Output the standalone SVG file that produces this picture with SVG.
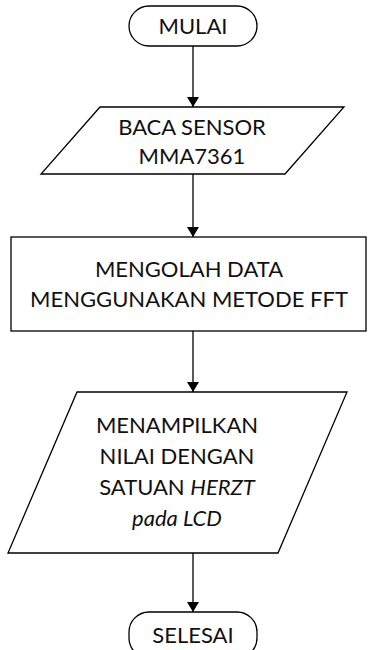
<svg xmlns="http://www.w3.org/2000/svg" width="368" height="650" viewBox="0 0 368 650">
<defs>
<marker id="ah" viewBox="0 0 10 12" refX="10" refY="6" markerWidth="10" markerHeight="12" markerUnits="userSpaceOnUse" orient="auto">
<path d="M0,0 L10,6 L0,12 Z" fill="#000"/>
</marker>
<style>
.s{fill:#fff;stroke:#000;stroke-width:1.3}
.t{font-family:Lato,"Open Sans",sans-serif;font-size:22px;fill:#111;text-anchor:middle}
.c{stroke:#000;stroke-width:1.3;fill:none}
</style>
</defs>
<rect width="368" height="650" fill="#fff"/>
<g id="connectors">
<line class="c" x1="193" y1="46" x2="193" y2="107" marker-end="url(#ah)"/>
<line class="c" x1="193" y1="174" x2="193" y2="237" marker-end="url(#ah)"/>
<line class="c" x1="193" y1="331" x2="193" y2="392" marker-end="url(#ah)"/>
<line class="c" x1="193" y1="553" x2="193" y2="612" marker-end="url(#ah)"/>
</g>
<g id="mulai">
<rect class="s" x="129" y="6" width="128" height="40" rx="20"/>
<text class="t" x="193" y="34">MULAI</text>
</g>
<g id="baca">
<polygon class="s" points="100,107 344,107 285,174 41,174"/>
<text class="t" x="192" y="135">BACA SENSOR</text>
<text class="t" x="192" y="164">MMA7361</text>
</g>
<g id="olah">
<rect class="s" x="11" y="237" width="355" height="94"/>
<text class="t" x="189" y="277">MENGOLAH DATA</text>
<text class="t" x="189" y="307">MENGGUNAKAN METODE FFT</text>
</g>
<g id="tampil">
<polygon class="s" points="77,392 347,392 278,553 8,553"/>
<text class="t" x="177" y="433">MENAMPILKAN</text>
<text class="t" x="177" y="464">NILAI DENGAN</text>
<text class="t" x="177" y="495">SATUAN <tspan font-style="italic">HERZT</tspan></text>
<text class="t" x="177" y="526" font-style="italic">pada LCD</text>
</g>
<g id="selesai">
<rect class="s" x="129" y="612" width="128" height="46" rx="20"/>
<text class="t" x="193" y="643">SELESAI</text>
</g>
</svg>
